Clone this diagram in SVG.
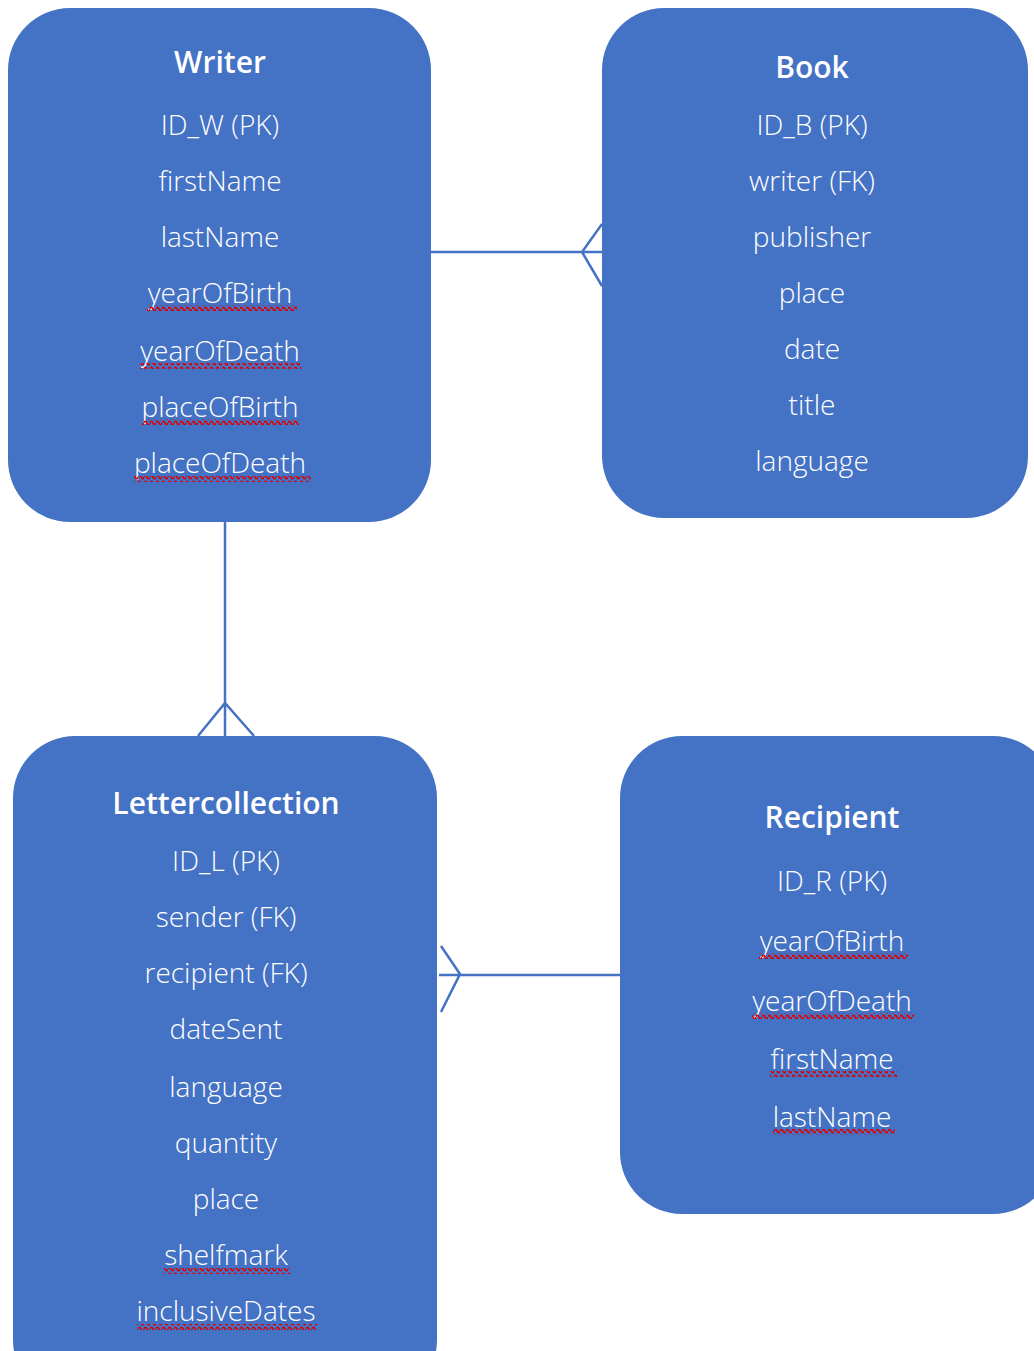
<svg xmlns="http://www.w3.org/2000/svg" width="1034" height="1351" viewBox="0 0 1034 1351">
<defs>
<pattern id="wave" patternUnits="userSpaceOnUse" width="6" height="6">
<path d="M0 3 C1 0.6 2 0.6 3 3 C4 5.4 5 5.4 6 3" fill="none" stroke="#e00000" stroke-width="1.6"/>
</pattern>
<style>
.box{fill:#4472C4;}
.t{font-family:"Open Sans","Liberation Sans",sans-serif;font-weight:600;font-size:30px;fill:#fff;text-anchor:middle;}
.a{font-family:"Open Sans","Liberation Sans",sans-serif;font-weight:300;font-size:28px;fill:#fff;text-anchor:middle;}
.w{fill:url(#wave);}
.c{stroke:#4472C4;stroke-width:2.5;fill:none;}
</style>
</defs>
<rect width="1034" height="1351" fill="#fff"/>
<g id="connectors">
<path class="c" d="M431 252 H602 M602 224 L582 252 L602 286"/>
<path class="c" d="M225 522 V736 M198 736 L225 703 L254 736"/>
<path class="c" d="M439 975 H620 M441 946 L460 974 L441 1012"/>
</g>
<g id="writer">
<rect class="box" x="8" y="8" width="423" height="514" rx="62"/>
<text class="t" x="220" y="73">Writer</text>
<text class="a" x="220" y="135">ID_W (PK)</text>
<text class="a" x="220" y="191">firstName</text>
<text class="a" x="220" y="247">lastName</text>
<text class="a" x="220" y="303">yearOfBirth</text>
<text class="a" x="220" y="361">yearOfDeath</text>
<text class="a" x="220" y="417">placeOfBirth</text>
<text class="a" x="220" y="473">placeOfDeath</text>
<rect class="w" x="147" y="305" width="150" height="6"/>
<rect class="w" x="140" y="363" width="161" height="6"/>
<rect class="w" x="142" y="419" width="157" height="6"/>
<rect class="w" x="134" y="476" width="177" height="6"/>
</g>
<g id="book">
<rect class="box" x="602" y="8" width="426" height="510" rx="62"/>
<text class="t" x="812" y="78">Book</text>
<text class="a" x="812" y="135">ID_B (PK)</text>
<text class="a" x="812" y="191">writer (FK)</text>
<text class="a" x="812" y="247">publisher</text>
<text class="a" x="812" y="303">place</text>
<text class="a" x="812" y="359">date</text>
<text class="a" x="812" y="415">title</text>
<text class="a" x="812" y="471">language</text>
</g>
<g id="lettercollection">
<rect class="box" x="13" y="736" width="424" height="666" rx="62"/>
<text class="t" x="226" y="814">Lettercollection</text>
<text class="a" x="226" y="871">ID_L (PK)</text>
<text class="a" x="226" y="927">sender (FK)</text>
<text class="a" x="226" y="983">recipient (FK)</text>
<text class="a" x="226" y="1039">dateSent</text>
<text class="a" x="226" y="1097">language</text>
<text class="a" x="226" y="1153">quantity</text>
<text class="a" x="226" y="1209">place</text>
<text class="a" x="226" y="1265">shelfmark</text>
<text class="a" x="226" y="1321">inclusiveDates</text>
<rect class="w" x="164" y="1268" width="126" height="6"/>
<rect class="w" x="137" y="1324" width="180" height="6"/>
</g>
<g id="recipient">
<rect class="box" x="620" y="736" width="435" height="478" rx="62"/>
<text class="t" x="832" y="828">Recipient</text>
<text class="a" x="832" y="891">ID_R (PK)</text>
<text class="a" x="832" y="951">yearOfBirth</text>
<text class="a" x="832" y="1011">yearOfDeath</text>
<text class="a" x="832" y="1069">firstName</text>
<text class="a" x="832" y="1127">lastName</text>
<rect class="w" x="759" y="953" width="149" height="6"/>
<rect class="w" x="752" y="1013" width="162" height="6"/>
<rect class="w" x="770" y="1071" width="127" height="6"/>
<rect class="w" x="773" y="1129" width="122" height="6"/>
</g>
</svg>
